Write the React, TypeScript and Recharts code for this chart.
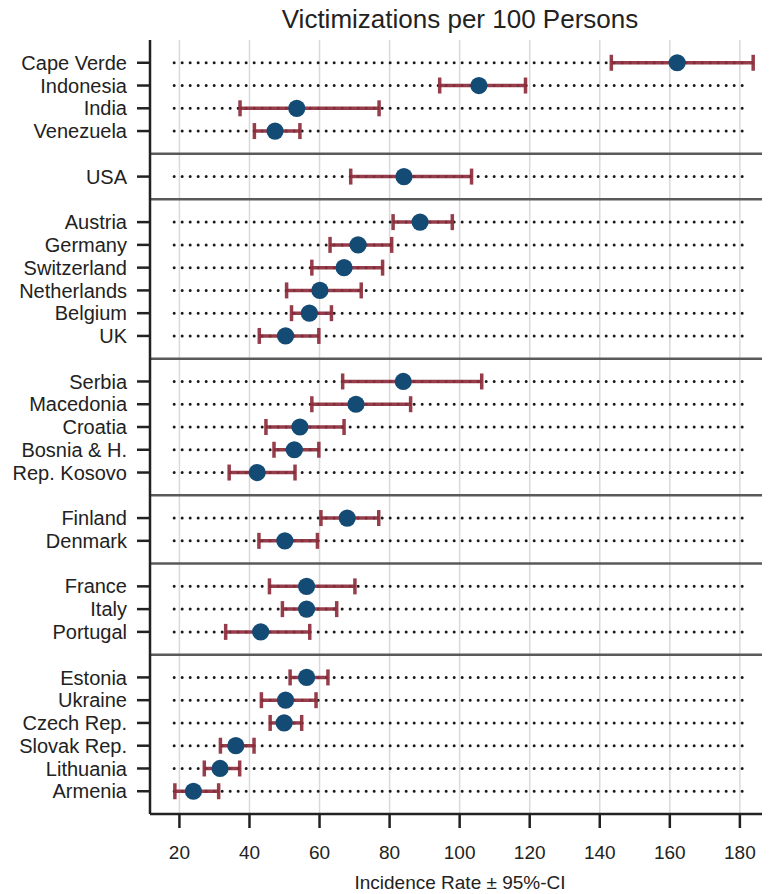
import {
  ScatterChart,
  Scatter,
  XAxis,
  YAxis,
  CartesianGrid,
  ErrorBar,
  ReferenceLine,
} from "recharts";

// Countries top to bottom, grouped by region (group sizes below)
const countries = [
  "Cape Verde", "Indonesia", "India", "Venezuela",
  "USA",
  "Austria", "Germany", "Switzerland", "Netherlands", "Belgium", "UK",
  "Serbia", "Macedonia", "Croatia", "Bosnia & H.", "Rep. Kosovo",
  "Finland", "Denmark",
  "France", "Italy", "Portugal",
  "Estonia", "Ukraine", "Czech Rep.", "Slovak Rep.", "Lithuania", "Armenia",
];
const groupSizes = [4, 1, 6, 5, 2, 3, 6];

// Incidence rate and 95% CI bounds
const rate = [
  162.1, 105.5, 53.5, 47.3,
  84.1,
  88.7, 71.0, 67.0, 60.1, 57.1, 50.3,
  83.9, 70.4, 54.4, 52.8, 42.2,
  67.9, 50.1,
  56.3, 56.3, 43.2,
  56.3, 50.3, 49.9, 36.1, 31.6, 24.0,
];
const lower = [
  143.3, 94.3, 37.3, 41.4,
  68.9,
  81.0, 63.0, 57.8, 50.6, 52.0, 42.8,
  66.6, 57.8, 44.7, 47.0, 34.2,
  60.4, 42.7,
  45.7, 49.4, 33.2,
  51.6, 43.4, 45.9, 31.7, 27.1, 18.7,
];
const upper = [
  183.8, 118.8, 77.0, 54.4,
  103.4,
  97.9, 80.6, 78.0, 71.9, 63.4, 59.8,
  106.3, 86.0, 67.0, 59.8, 53.0,
  76.9, 59.4,
  70.1, 64.9, 57.2,
  62.4, 59.0, 54.9, 41.3, 37.2, 31.2,
];
const xTicks = [20, 40, 60, 80, 100, 120, 140, 160, 180];

// Row slots: one empty slot between groups holds the separator line,
// plus one empty slot above the first and below the last row
const rowPos: number[] = [];
const separators: number[] = [];
let slot = 1;
groupSizes.forEach((size, g) => {
  for (let i = 0; i < size; i++) rowPos.push(slot + i);
  slot += size;
  if (g < groupSizes.length - 1) {
    separators.push(slot);
    slot += 1;
  }
});
const yMax = slot;

const data = countries.map((name, i) => ({
  name,
  x: rate[i],
  y: rowPos[i],
  err: [rate[i] - lower[i], upper[i] - rate[i]],
}));

const labelByPos: Record<number, string> = {};
rowPos.forEach((p, i) => (labelByPos[p] = countries[i]));

const FONT = "'Liberation Sans', Arial, Helvetica, sans-serif";
const BLUE = "#144b74";
const RED = "#8c2d3b";

const Dot = (props: any) => (
  <circle cx={props.cx} cy={props.cy} r={8.6} fill={BLUE} />
);

export default function App() {
  return (
    <div style={{ position: "relative", width: 762, height: 886, fontFamily: FONT }}>
      <div
        style={{
          position: "absolute",
          left: 142,
          width: 620,
          top: -4,
          zIndex: 1,
          textAlign: "center",
          fontSize: 26,
          lineHeight: "30px",
          color: "#222",
        }}
      >
        Victimizations per 100 Persons
      </div>
      <ScatterChart
        width={762}
        height={886}
        margin={{ top: 32, right: 0, bottom: 0, left: 0 }}
        style={{ fontFamily: FONT }}
      >
        <CartesianGrid horizontal={false} stroke="#d9d9d9" strokeWidth={1.5} />
        <XAxis
          type="number"
          dataKey="x"
          domain={[11.6, 188.6]}
          ticks={xTicks}
          allowDataOverflow
          height={80}
          tickSize={14}
          tickMargin={18}
          axisLine={{ stroke: "#222", strokeWidth: 2.5 }}
          tickLine={{ stroke: "#222", strokeWidth: 2.5 }}
          tick={{ fontSize: 19, fill: "#222" }}
          label={{
            value: "Incidence Rate ± 95%-CI",
            position: "insideBottom",
            offset: 5,
            fontSize: 19,
            fill: "#222",
          }}
        />
        <YAxis
          type="number"
          dataKey="y"
          domain={[0, yMax]}
          allowDataOverflow
          reversed
          ticks={rowPos}
          interval={0}
          width={142}
          tickSize={13}
          tickMargin={10}
          tickFormatter={(v: number) => labelByPos[v] ?? ""}
          axisLine={{ stroke: "#222", strokeWidth: 2.5 }}
          tickLine={{ stroke: "#222", strokeWidth: 2.5 }}
          tick={{ fontSize: 20, fill: "#222" }}
        />
        {separators.map((s) => (
          <ReferenceLine key={`sep-${s}`} y={s} stroke="#5a5a5a" strokeWidth={2.5} />
        ))}
        {rowPos.map((p) => (
          <ReferenceLine
            key={`dot-${p}`}
            segment={[
              { x: 18.5, y: p },
              { x: 181.8, y: p },
            ]}
            stroke="#1a1a1a"
            strokeWidth={3}
            strokeDasharray="0 8"
            strokeLinecap="round"
          />
        ))}
        <Scatter data={data} shape={Dot} isAnimationActive={false}>
          <ErrorBar
            dataKey="err"
            direction="x"
            width={8}
            stroke={RED}
            strokeWidth={3.5}
            strokeOpacity={0.92}
            isAnimationActive={false}
          />
        </Scatter>
      </ScatterChart>
    </div>
  );
}
